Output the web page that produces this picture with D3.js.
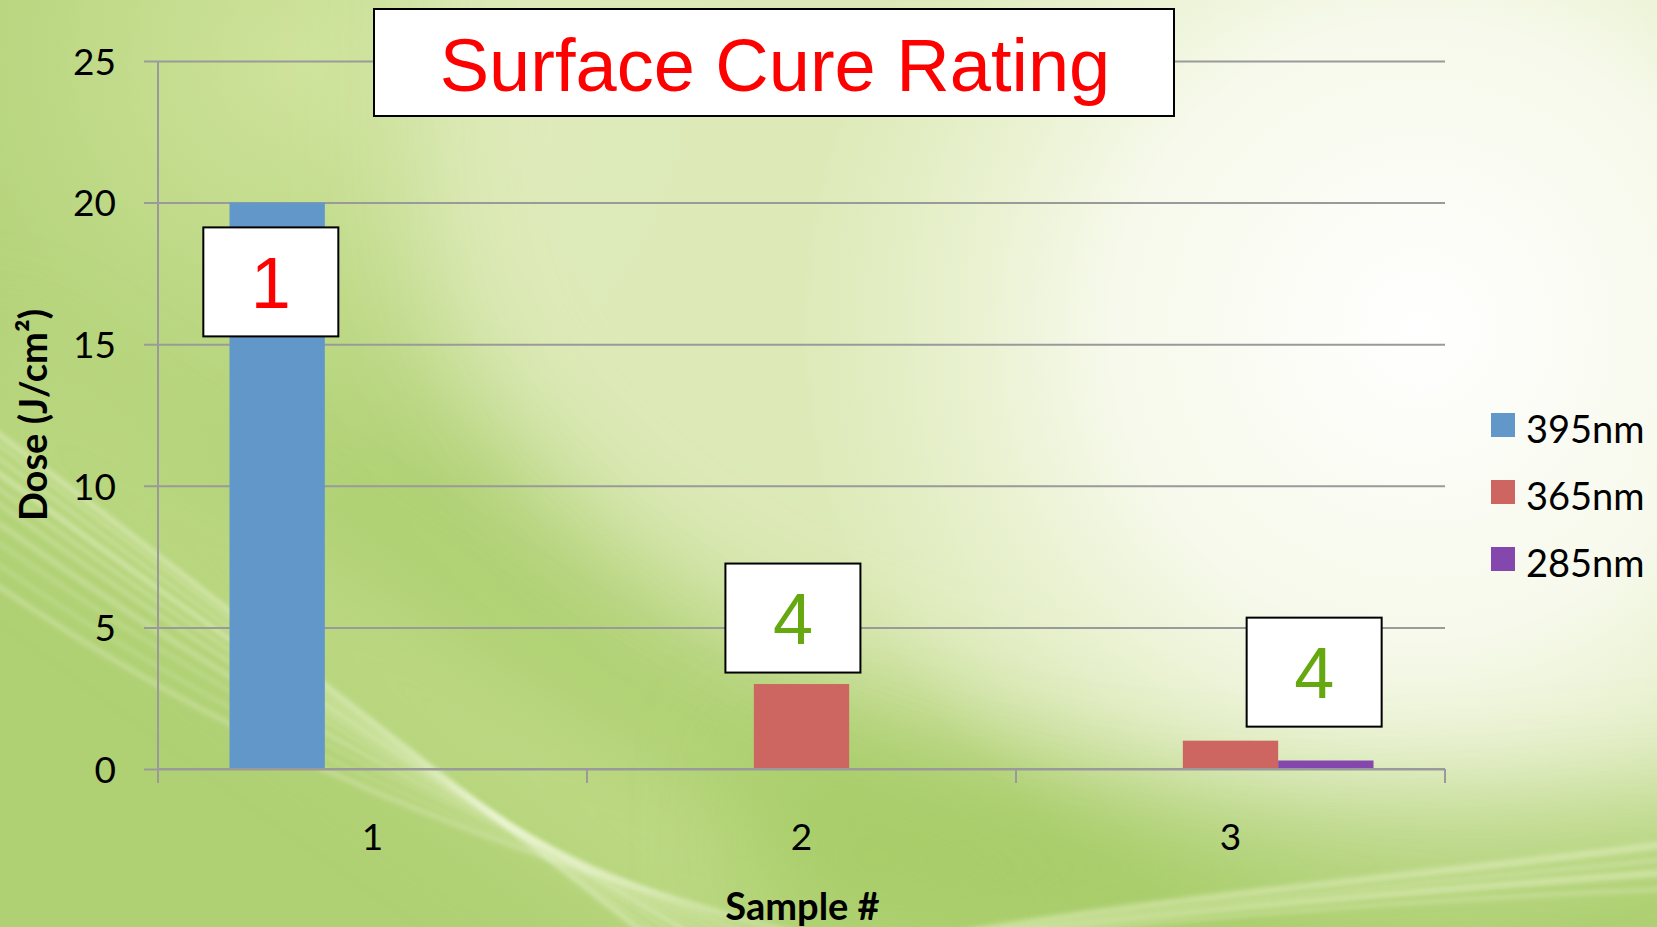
<!DOCTYPE html>
<html>
<head>
<meta charset="utf-8">
<script src="https://cdn.jsdelivr.net/npm/d3@7"></script>
<style>
    body { margin: 0; overflow: hidden; }
    svg { display: block; }
    .tick text { font-family: Lato, sans-serif; }
</style>
</head>
<body>
<svg id="chart"></svg>
<script>
// chart data
const samples = ['1', '2', '3'];
const seriesNames = ['395nm', '365nm', '285nm'];
const dose395 = [20, 0, 0];
const dose365 = [0, 3, 1];
const dose285 = [0, 0, 0.3];
const yTicks = [0, 5, 10, 15, 20, 25];
// cure rating boxes, anchored in data space (sample position, dose)
const ratings = [1, 4, 4];
const ratingSamplePos = [0.763, 1.98, 3.195];
const ratingDose = [17.2, 5.33, 3.42];

const colors = ['#6197c9', '#cd6660', '#8447ad'];

const width = 1657;
const height = 927;
const margin = { top: 61, right: 212, bottom: 158, left: 158 };

const svg = d3.select('#chart')
    .attr('width', width)
    .attr('height', height);

//background
const defs = svg.append('defs');
defs.append('filter').attr('id', 'soft')
    .attr('x', '-30%').attr('y', '-30%').attr('width', '160%').attr('height', '160%')
    .append('feGaussianBlur').attr('stdDeviation', 60);
defs.append('filter').attr('id', 'softer')
    .append('feGaussianBlur').attr('stdDeviation', 2.5);

const glow = defs.append('radialGradient')
    .attr('id', 'glow').attr('gradientUnits', 'userSpaceOnUse')
    .attr('cx', 1420).attr('cy', 330).attr('r', 620);
glow.append('stop').attr('offset', '0%').attr('stop-color', '#ffffff').attr('stop-opacity', 1);
glow.append('stop').attr('offset', '50%').attr('stop-color', '#fbfcf4').attr('stop-opacity', 0.85);
glow.append('stop').attr('offset', '100%').attr('stop-color', '#f4f8e4').attr('stop-opacity', 0);

const topLeft = defs.append('radialGradient')
    .attr('id', 'topLeft').attr('gradientUnits', 'userSpaceOnUse')
    .attr('cx', 300).attr('cy', 60).attr('r', 450);
topLeft.append('stop').attr('offset', '0%').attr('stop-color', '#d2e5a0').attr('stop-opacity', 0.9);
topLeft.append('stop').attr('offset', '100%').attr('stop-color', '#d2e5a0').attr('stop-opacity', 0);

svg.append('rect').attr('width', width).attr('height', height).attr('fill', '#afd073');
svg.append('rect').attr('width', width).attr('height', height).attr('fill', 'url(#topLeft)');

// pale region above the big arc
svg.append('path')
    .attr('d', 'M420,-120 L1760,-120 L1760,830 C1350,800 1050,770 800,660 C620,580 500,460 440,340 C400,230 400,100 420,-120 Z')
    .attr('fill', '#e2edc0')
    .attr('opacity', 0.9)
    .attr('filter', 'url(#soft)');

svg.append('rect').attr('width', width).attr('height', height).attr('fill', 'url(#glow)');

// lighter green band below the arc, where the streaks run
svg.append('path')
    .attr('d', 'M-40,430 C200,600 450,800 720,960 L1000,960 C700,820 350,600 -40,330 Z')
    .attr('fill', '#cfe59a')
    .attr('opacity', 0.55)
    .attr('filter', 'url(#soft)');

// darker green under the arc, bottom right
svg.append('path')
    .attr('d', 'M760,720 C1000,840 1300,850 1740,800 L1740,880 C1300,900 1000,930 760,960 Z')
    .attr('fill', '#a3ca62')
    .attr('opacity', 0.7)
    .attr('filter', 'url(#soft)');

// light streaks, left to bottom
const streaks = [0, 10, 22, 36, 50, 64, 82, 100, 120, 140];
streaks.forEach((s, i) => {
    svg.append('path')
        .attr('d', `M-20,${420 + s * 1.1} C180,${570 + s} 420,${760 + s * 0.6} ${680 + s * 1.6},960`)
        .attr('fill', 'none')
        .attr('stroke', '#f6fbe4')
        .attr('stroke-width', i % 3 === 0 ? 5 : 2.5)
        .attr('opacity', i < 6 ? 0.45 : 0.3)
        .attr('filter', 'url(#softer)');
});
// light streaks along the bottom right
const lowStreaks = [0, 16, 30, 48];
lowStreaks.forEach((s, i) => {
    svg.append('path')
        .attr('d', `M820,${960} C1100,${900 + s * 0.5} 1400,${880 + s * 0.4} 1700,${840 + s}`)
        .attr('fill', 'none')
        .attr('stroke', '#eef6d0')
        .attr('stroke-width', i % 2 ? 3 : 7)
        .attr('opacity', 0.45)
        .attr('filter', 'url(#softer)');
});

const innerWidth = width - margin.left - margin.right;
const innerHeight = height - margin.top - margin.bottom;

const g = svg.append('g')
    .attr('transform', `translate(${margin.left}, ${margin.top})`);

const xScale = d3.scaleBand()
    .domain(samples)
    .range([0, innerWidth])
    .padding(0);

const xSeries = d3.scaleBand()
    .domain(seriesNames)
    .range([0, xScale.bandwidth()])
    .paddingInner(0)
    .paddingOuter(0.75);

const yScale = d3.scaleLinear()
    .domain([0, 25])
    .range([innerHeight, 0]);

// continuous sample position (1 = centre of first band)
const xPos = d3.scaleLinear()
    .domain([1, samples.length])
    .range([xScale(samples[0]) + xScale.bandwidth() / 2, xScale(samples[samples.length - 1]) + xScale.bandwidth() / 2]);

//y axis with gridlines
const yAxis = d3.axisLeft(yScale)
    .tickValues(yTicks)
    .tickSize(14)
    .tickPadding(28);
const yAxisG = g.append('g').call(yAxis);
yAxisG.select('.domain').remove();
yAxisG.selectAll('.tick line')
    .attr('x1', -14)
    .attr('x2', innerWidth)
    .attr('stroke', '#9a9a9a')
    .attr('stroke-width', 2);
yAxisG.selectAll('.tick text')
    .attr('font-size', 37)
    .attr('fill', '#000')
    .attr('dy', '0.36em');

g.append('line')
    .attr('x1', 0).attr('x2', 0)
    .attr('y1', 0).attr('y2', innerHeight)
    .attr('stroke', '#9a9a9a')
    .attr('stroke-width', 2);

//bars
const table = samples.map((s, i) => ({
    sample: s,
    values: [dose395[i], dose365[i], dose285[i]]
}));

g.append('g').selectAll('g')
    .data(table)
    .enter()
    .append('g')
    .attr('transform', d => `translate(${xScale(d.sample)}, 0)`)
    .selectAll('rect')
    .data(d => d.values.map((v, k) => ({ name: seriesNames[k], value: v, color: colors[k] })))
    .enter()
    .append('rect')
    .attr('x', d => xSeries(d.name))
    .attr('width', xSeries.bandwidth())
    .attr('y', d => yScale(d.value))
    .attr('height', d => innerHeight - yScale(d.value))
    .attr('fill', d => d.color);

//x axis
const xAxisG = g.append('g')
    .attr('transform', `translate(0, ${innerHeight})`);
xAxisG.append('line')
    .attr('x1', 0).attr('x2', innerWidth)
    .attr('stroke', '#9a9a9a')
    .attr('stroke-width', 2);
xAxisG.selectAll('line.tick')
    .data(samples.map(s => xScale(s)).concat([innerWidth]))
    .enter()
    .append('line')
    .attr('class', 'tick')
    .attr('x1', d => d).attr('x2', d => d)
    .attr('y1', 0).attr('y2', 14)
    .attr('stroke', '#9a9a9a')
    .attr('stroke-width', 2);
xAxisG.selectAll('text')
    .data(samples)
    .enter()
    .append('text')
    .attr('x', d => xScale(d) + xScale.bandwidth() / 2)
    .attr('y', 81)
    .attr('text-anchor', 'middle')
    .attr('font-family', 'Lato, sans-serif')
    .attr('font-size', 37)
    .text(d => d);

//axis titles
g.append('text')
    .attr('x', innerWidth / 2 + 1)
    .attr('y', innerHeight + 151)
    .attr('text-anchor', 'middle')
    .attr('font-family', 'Lato, sans-serif')
    .attr('font-weight', 'bold')
    .attr('font-size', 38)
    .text('Sample #');

svg.append('text')
    .attr('transform', `translate(47, ${margin.top + innerHeight / 2}) rotate(-90)`)
    .attr('text-anchor', 'middle')
    .attr('font-family', 'Lato, sans-serif')
    .attr('font-weight', 'bold')
    .attr('font-size', 38)
    .text('Dose (J/cm²)');

//rating boxes
const boxW = 135;
const boxH = 109;
const ratingG = g.append('g').selectAll('g')
    .data(ratings.map((r, i) => ({ rating: r, pos: ratingSamplePos[i], dose: ratingDose[i] })))
    .enter()
    .append('g')
    .attr('transform', d => `translate(${xPos(d.pos)}, ${yScale(d.dose)})`);
ratingG.append('rect')
    .attr('x', -boxW / 2)
    .attr('y', -boxH / 2)
    .attr('width', boxW)
    .attr('height', boxH)
    .attr('fill', '#fff')
    .attr('stroke', '#000')
    .attr('stroke-width', 2);
ratingG.append('text')
    .attr('text-anchor', 'middle')
    .attr('dy', '0.36em')
    .attr('font-family', '"Liberation Sans", Arial, sans-serif')
    .attr('font-size', 72)
    .attr('fill', d => d.rating === 1 ? '#ff0000' : '#66a80f')
    .text(d => d.rating);

//title
svg.append('rect')
    .attr('x', 374)
    .attr('y', 9)
    .attr('width', 800)
    .attr('height', 107)
    .attr('fill', '#fff')
    .attr('stroke', '#000')
    .attr('stroke-width', 2);
svg.append('text')
    .attr('x', 775)
    .attr('y', 91)
    .attr('text-anchor', 'middle')
    .attr('font-family', '"Liberation Sans", Arial, sans-serif')
    .attr('font-size', 74)
    .attr('fill', '#ff0000')
    .text('Surface Cure Rating');

//legend
const legend = svg.append('g')
    .attr('transform', 'translate(1491, 413)');
const legendItem = legend.selectAll('g')
    .data(seriesNames)
    .enter()
    .append('g')
    .attr('transform', (d, i) => `translate(0, ${i * 67})`);
legendItem.append('rect')
    .attr('width', 24)
    .attr('height', 24)
    .attr('fill', (d, i) => colors[i]);
legendItem.append('text')
    .attr('x', 35)
    .attr('y', 30)
    .attr('font-family', 'Lato, sans-serif')
    .attr('font-size', 38)
    .attr('fill', '#000')
    .text(d => d);
</script>
</body>
</html>
